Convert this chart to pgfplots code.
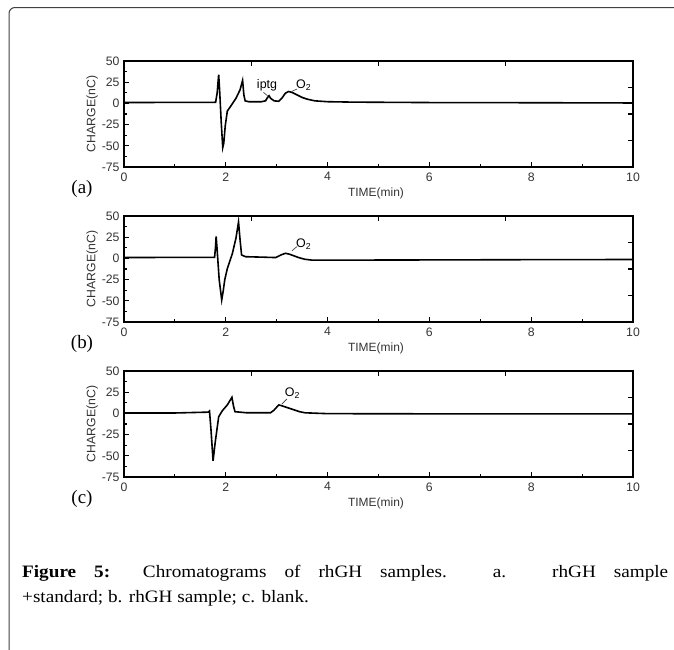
\documentclass[border=0pt]{standalone}
\usepackage{fontspec}
\setmainfont{Liberation Serif}
\setsansfont{Liberation Sans}
\newfontfamily\capfont[FakeStretch=1.1]{Liberation Serif}
\usepackage{pgfplots}
\pgfplotsset{compat=1.18}

% Chromatogram traces
\pgfplotstableread{
t q
0 1
1.0 1.2
1.80 1.3
1.83 12
1.86 34
1.88 14
1.91 -22
1.94 -52
1.96 -47
1.99 -26
2.03 -9
2.10 -3
2.20 6
2.28 16
2.33 27
2.355 10
2.38 3
2.45 2
2.70 2
2.78 3
2.82 7
2.85 9
2.88 6
2.95 3
3.04 2.5
3.10 6
3.17 12
3.23 14
3.30 13
3.40 10
3.50 7
3.60 5
3.75 3
4.00 2
4.50 1.5
6.00 1
8.00 0.8
10.00 0.5
}\dataA
\pgfplotstableread{
t q
0 1
1.0 1.2
1.78 1.3
1.80 15
1.81 26
1.83 10
1.87 -25
1.92 -49
1.95 -38
1.98 -25
2.03 -12
2.13 6
2.20 24
2.25 43
2.28 22
2.31 4
2.39 2
2.70 1.5
2.98 1
3.08 4
3.17 6
3.25 5
3.43 1
3.55 -1
3.69 -2
4.50 -2
6.00 -1.8
8.00 -1.5
10.00 -1.3
}\dataB
\pgfplotstableread{
t q
0 0.5
1.0 0.5
1.66 1.5
1.68 2.7
1.71 -20
1.75 -56
1.79 -35
1.86 -4
1.93 3
2.03 10
2.12 19
2.15 9
2.18 2
2.40 0.8
2.88 0.8
2.95 4
3.04 10
3.10 9
3.20 7
3.30 5
3.45 2
3.56 0.7
4.00 -0.3
6.00 -0.5
10.00 -0.5
}\dataC

\pgfplotsset{
  panel/.style={
    scale only axis, width=509bp, height=106bp,
    xmin=0, xmax=10, ymin=-75, ymax=50,
    axis line style={line width=1.4bp},
    tick align=inside,
    major tick length=5bp, minor tick length=3bp,
    every tick/.style={black, line width=1.1bp},
    tick label style={font=\fontsize{12.3}{12.3}\sffamily, text=black!80},
    /pgf/number format/assume math mode=true,
  },
  mainpanel/.style={panel,
    xtick={0,2,...,10}, minor x tick num=1,
    ytick={-75,-50,...,50}, minor y tick num=1,
    xtick pos=left, ytick pos=left,
    xticklabel style={yshift=-2bp},
    yticklabel style={xshift=-1bp},
    ylabel={CHARGE(nC)},
    ylabel style={font=\fontsize{12.3}{12.3}\sffamily, text=black!80, yshift=-3bp},
  },
  overpanel/.style={panel,
    xtick={2.5,5,7.5}, ytick={-43.75,-12.5,18.75},
    xtick pos=right, ytick pos=right,
    xticklabels={}, yticklabels={},
  },
}

\begin{document}
\begin{tikzpicture}
\path[use as bounding box] (0,0) rectangle (674bp,-650bp);
\draw[line width=1bp, black!75, rounded corners=6bp] (9bp,-650bp) -- (9bp,-7.5bp) -- (674bp,-7.5bp);

% panel (a)
\begin{axis}[mainpanel, at={(124bp,-61bp)}, anchor=north west]
\addplot[black, line width=1.6bp] table[x=t, y=q] {\dataA};
\draw[black!80, line width=0.6bp] (axis cs:2.74,13) -- (axis cs:2.82,9);
\node[font=\fontsize{12.5}{12.5}\sffamily] at (axis cs:2.81,21) {iptg};
\draw[black!80, line width=0.6bp] (axis cs:3.29,14) -- (axis cs:3.40,17);
\node[font=\fontsize{12.5}{12.5}\sffamily] at (axis cs:3.53,21) {O\textsubscript{2}};
\end{axis}
\begin{axis}[overpanel, at={(124bp,-61bp)}, anchor=north west]
\end{axis}
\node[font=\fontsize{12}{12}\sffamily, text=black!80] at (376bp,-193bp) {TIME(min)};
\node[font=\fontsize{19}{19}\selectfont] at (82bp,-189bp) {(a)};

% panel (b)
\begin{axis}[mainpanel, at={(124bp,-216bp)}, anchor=north west]
\addplot[black, line width=1.6bp] table[x=t, y=q] {\dataB};
\draw[black!80, line width=0.6bp] (axis cs:3.30,9) -- (axis cs:3.40,14);
\node[font=\fontsize{12.5}{12.5}\sffamily] at (axis cs:3.53,17) {O\textsubscript{2}};
\end{axis}
\begin{axis}[overpanel, at={(124bp,-216bp)}, anchor=north west]
\end{axis}
\node[font=\fontsize{12}{12}\sffamily, text=black!80] at (376bp,-348bp) {TIME(min)};
\node[font=\fontsize{19}{19}\selectfont] at (82bp,-344bp) {(b)};

% panel (c)
\begin{axis}[mainpanel, at={(124bp,-371bp)}, anchor=north west]
\addplot[black, line width=1.6bp] table[x=t, y=q] {\dataC};
\draw[black!80, line width=0.6bp] (axis cs:3.10,11) -- (axis cs:3.20,17);
\node[font=\fontsize{12.5}{12.5}\sffamily] at (axis cs:3.31,24) {O\textsubscript{2}};
\end{axis}
\begin{axis}[overpanel, at={(124bp,-371bp)}, anchor=north west]
\end{axis}
\node[font=\fontsize{12}{12}\sffamily, text=black!80] at (376bp,-503bp) {TIME(min)};
\node[font=\fontsize{19}{19}\selectfont] at (82bp,-499bp) {(c)};

% caption
\node[anchor=north west, inner sep=0pt, text width=646bp, align=justify,
      font=\capfont\fontsize{17.5}{25}\selectfont] at (22bp,-565bp)
  {\textbf{Figure 5:} Chromatograms of rhGH samples. a. rhGH sample\linebreak
   +standard; b. rhGH sample; c. blank.};
\end{tikzpicture}
\end{document}
